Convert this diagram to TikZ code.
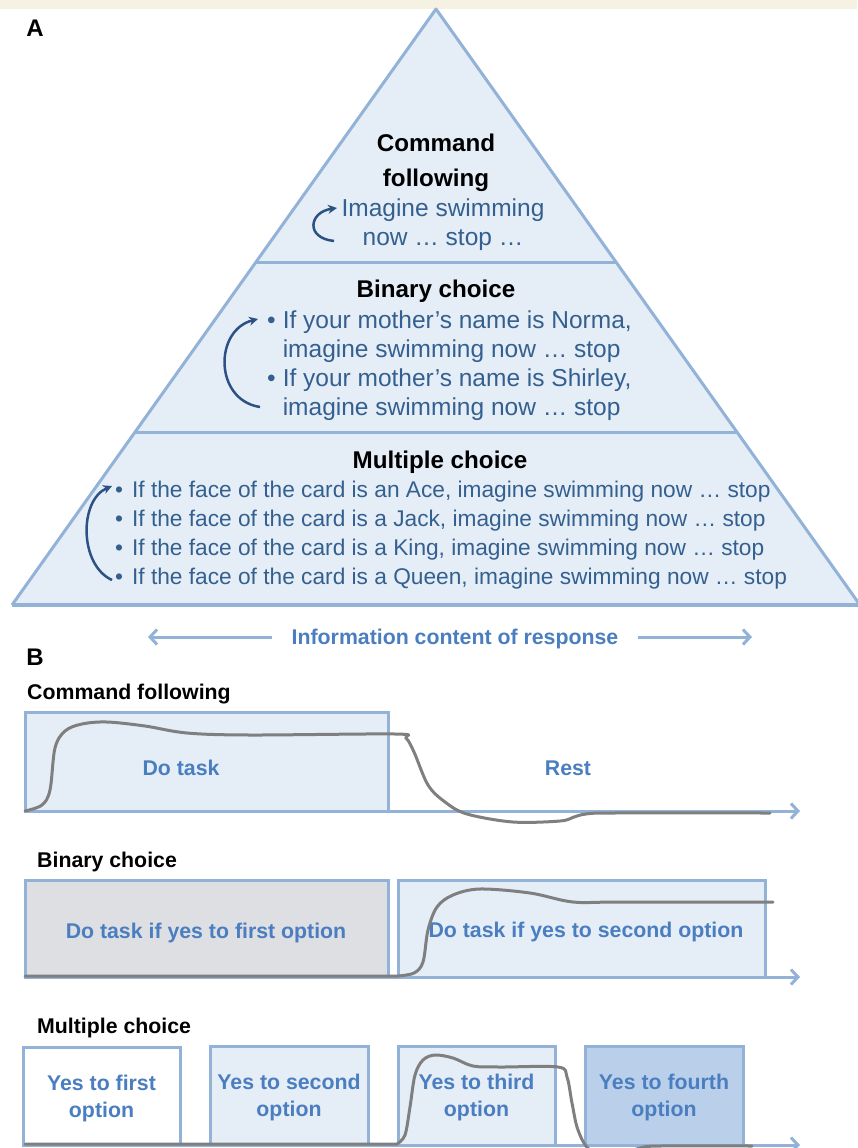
\documentclass[tikz,border=0pt]{standalone}
\usepackage{fontspec}
\setmainfont{Liberation Sans}
\usetikzlibrary{arrows.meta}

\definecolor{strip}{HTML}{F5F1E3}
\definecolor{edgeblue}{HTML}{93B2D8}
\definecolor{tierfill}{HTML}{E5EDF7}
\definecolor{textblue}{HTML}{34608F}
\definecolor{labelblue}{HTML}{4A7EC0}
\definecolor{arrowblue}{HTML}{2C5283}
\definecolor{traceg}{HTML}{7F7F7F}
\definecolor{greybox}{HTML}{DEDFE2}
\definecolor{darkbox}{HTML}{BAD0EA}

\tikzset{
  every node/.style={inner sep=0pt},
  panel/.style={font=\fontsize{24}{24}\selectfont\bfseries},
  tierhead/.style={font=\fontsize{24.2}{35}\selectfont\bfseries, align=center},
  tiertext/.style={text=textblue, font=\fontsize{24.5}{29}\selectfont, align=center},
  turn/.style={draw=arrowblue, line width=2.5pt, -{Stealth[length=9pt,width=9pt]}},
  caption/.style={font=\fontsize{21.3}{21.3}\selectfont\bfseries, anchor=west},
  boxtext/.style={text=labelblue, font=\fontsize{21.3}{27}\selectfont\bfseries, align=center},
  taskbox/.style={draw=edgeblue, line width=3pt, fill=tierfill},
  axis/.style={draw=edgeblue, line width=3pt, -{Straight Barb[length=7pt,width=15pt]}},
  trace/.style={draw=traceg, line width=3pt, line cap=round},
}

\begin{document}
\begin{tikzpicture}[x=1pt,y=-1pt]
\useasboundingbox (0,0) rectangle (857,1148);
\fill[strip] (0,0) rectangle (857,9);

% A: pyramid
\node (pa) at (35,28) [panel] {A};
\coordinate (apex) at (436,9);
\coordinate (baseL) at (12,605);
\coordinate (baseR) at (860,605);
\fill[tierfill] (apex) -- (baseL) -- (baseR) -- cycle;
\draw[edgeblue, line width=3pt, line join=round] (baseL) -- (apex) -- (baseR);
\draw[edgeblue, line width=3pt] (256,262) -- (616,262);
\draw[edgeblue, line width=3pt] (135,432) -- (737,432);
\draw[edgeblue, line width=4pt] (baseL) -- (baseR);

\node (cmd) at (436,163) [tierhead] {Command\\following};
\node (cmdtext) at (443,225) [tiertext] {Imagine swimming\\now … stop …};
\draw[turn] (334,241) .. controls (305,238) and (309,212) .. (337,208);

\node (bin) at (436,291) [tierhead] {Binary choice};
\node (binlist) at (267,366.5) [tiertext, anchor=west] {\begin{tabular}{@{}l@{\hspace{7pt}}l@{}}
  \textbullet & If your mother’s name is Norma,\\
  & imagine swimming now … stop\\
  \textbullet & If your mother’s name is Shirley,\\
  & imagine swimming now … stop
\end{tabular}};
\draw[turn] (260,407) .. controls (214,400) and (214,330) .. (258,319);

\node (multi) at (440,462) [tierhead] {Multiple choice};
\node (multilist) at (115,535.5) [tiertext, anchor=west, font=\fontsize{22.7}{29}\selectfont] {\begin{tabular}{@{}l@{\hspace{9pt}}l@{}}
  \textbullet & If the face of the card is an Ace, imagine swimming now … stop\\
  \textbullet & If the face of the card is a Jack, imagine swimming now … stop\\
  \textbullet & If the face of the card is a King, imagine swimming now … stop\\
  \textbullet & If the face of the card is a Queen, imagine swimming now … stop
\end{tabular}};
\draw[turn] (112,580) .. controls (79,565) and (79,500) .. (112,486);

\node (info) at (455,639) [text=labelblue, font=\fontsize{21.3}{21.3}\selectfont\bfseries, inner xsep=19pt] {Information content of response};
\coordinate (infoL) at (148,637);
\coordinate (infoR) at (752,637);
\draw[axis] (info.west |- infoL) -- (infoL);
\draw[axis] (info.east |- infoR) -- (infoR);

% B: responses over time
\node (pb) at (35,657) [panel] {B};

\node (cf) at (27,694) [caption] {Command following};
\draw[taskbox] (25,712) rectangle (388,811);
\node (dotask) at (181,768) [boxtext] {Do task};
\node (rest) at (568,768) [boxtext] {Rest};
\coordinate (ax1s) at (25,811);
\coordinate (ax1e) at (800,811);
\draw[axis] (ax1s) -- (ax1e);
\draw[trace] plot[smooth, tension=0.55] coordinates {(25,811) (42,805) (50,790) (55,748) (65,731) (82,724) (107,722) (145,726) (187,733) (250,735) (395,734) (406,738) (414,752) (428,785) (445,802) (467,814) (513,822) (560,821) (574,817) (586,814) (613,813) (770,813)};

\node (bc) at (37,862) [caption] {Binary choice};
\node (first) at (206.5,928.5) [taskbox, fill=greybox, minimum width=363pt, minimum height=97pt] {};
\node (firsttext) at (206,933) [boxtext] {Do task if yes to first option};
\node (second) at (581.5,928.5) [taskbox, minimum width=367pt, minimum height=97pt] {};
\node (secondtext) at (586,932) [boxtext] {Do task if yes to second option};
\coordinate (ax2s) at (25,977);
\coordinate (ax2e) at (800,977);
\draw[axis] (ax2s) -- (ax2e);
\draw[trace] (25,976) -- (398,976) plot[smooth, tension=0.55] coordinates {(398,976) (414,973) (423,962) (428,930) (437,907) (453,895) (480,889) (530,893) (573,902) (620,902) (773,902)};

\node (mc) at (37,1028) [caption] {Multiple choice};
\node (opt1) at (101.5,1096) [taskbox, fill=white, minimum width=157pt, minimum height=98pt, boxtext, text depth=-3pt] {Yes to first\\option};
\node (opt2) at (289,1095.5) [taskbox, minimum width=158pt, minimum height=99pt, boxtext, text depth=-3pt] {Yes to second\\option};
\node (opt3) at (476.5,1095.5) [taskbox, minimum width=157pt, minimum height=99pt, boxtext, text depth=-3pt] {Yes to third\\option};
\node (opt4) at (664,1095.5) [taskbox, fill=darkbox, minimum width=158pt, minimum height=99pt, boxtext, text depth=-3pt] {Yes to fourth\\option};
\coordinate (ax3s) at (25,1145);
\coordinate (ax3e) at (800,1145);
\draw[axis] (ax3s) -- (ax3e);
\draw[trace] (25,1144) -- (397,1144) plot[smooth, tension=0.55] coordinates {(397,1144) (405,1135) (410,1107) (415,1075) (423,1060) (435,1055) (453,1058) (473,1066) (500,1067) (558,1067) (567,1077) (572,1103) (578,1130) (590,1150) (615,1156) (640,1148) (660,1146) (752,1146)};
\end{tikzpicture}
\end{document}
